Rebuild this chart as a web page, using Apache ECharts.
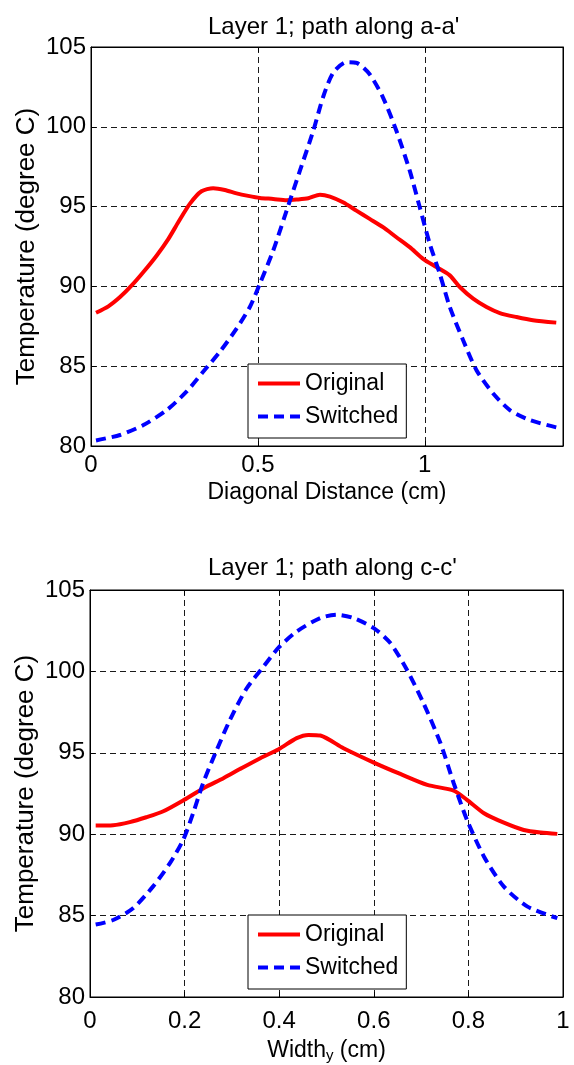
<!DOCTYPE html>
<html>
<head>
<meta charset="utf-8">
<script src="https://cdn.jsdelivr.net/npm/echarts@6/dist/echarts.min.js"></script>
<style>
  html, body { margin: 0; padding: 0; background: #fff; }
  #chart { width: 574px; height: 1065px; }
</style>
</head>
<body>
<div id="chart"></div>
<script>
// Layer 1, path along a-a' (diagonal distance, cm) — temperature, degree C
var aaOriginalX = [0.015, 0.052, 0.087, 0.122, 0.157, 0.197, 0.232, 0.261, 0.296, 0.331, 0.366, 0.401, 0.436, 0.471, 0.506, 0.546, 0.586, 0.616, 0.651, 0.686, 0.716, 0.755, 0.795, 0.835, 0.875, 0.915, 0.955, 0.995, 1.035, 1.075, 1.105, 1.145, 1.185, 1.225, 1.275, 1.324, 1.394];
var aaOriginalT = [88.35, 88.75, 89.33, 90.06, 90.9, 91.94, 92.98, 94.0, 95.17, 95.96, 96.15, 96.04, 95.83, 95.67, 95.54, 95.48, 95.4, 95.44, 95.52, 95.75, 95.63, 95.27, 94.75, 94.23, 93.71, 93.08, 92.46, 91.73, 91.21, 90.69, 89.96, 89.23, 88.71, 88.33, 88.08, 87.88, 87.73];
var aaSwitchedX = [0.015, 0.087, 0.157, 0.227, 0.286, 0.336, 0.386, 0.436, 0.476, 0.506, 0.546, 0.596, 0.626, 0.666, 0.696, 0.726, 0.766, 0.796, 0.835, 0.875, 0.915, 0.955, 0.985, 1.015, 1.045, 1.075, 1.115, 1.155, 1.205, 1.255, 1.314, 1.394];
var aaSwitchedT = [80.35, 80.69, 81.31, 82.25, 83.4, 84.65, 85.9, 87.35, 88.71, 90.17, 92.25, 95.38, 97.25, 99.75, 101.9, 103.4, 104.05, 104.0, 103.29, 101.83, 99.75, 97.25, 94.96, 92.67, 90.79, 88.71, 86.63, 84.75, 83.29, 82.25, 81.63, 81.17];

// Layer 1, path along c-c' (width y, cm)
var ccOriginalX = [0.012, 0.049, 0.084, 0.119, 0.155, 0.199, 0.24, 0.282, 0.317, 0.36, 0.399, 0.437, 0.462, 0.487, 0.536, 0.6, 0.656, 0.713, 0.769, 0.797, 0.833, 0.875, 0.917, 0.953, 0.988];
var ccOriginalT = [90.53, 90.55, 90.74, 91.04, 91.41, 92.11, 92.83, 93.44, 94.0, 94.67, 95.22, 95.9, 96.1, 96.06, 95.28, 94.4, 93.7, 93.03, 92.68, 92.11, 91.29, 90.71, 90.26, 90.1, 90.02];
var ccSwitchedX = [0.012, 0.049, 0.091, 0.133, 0.169, 0.197, 0.218, 0.239, 0.268, 0.296, 0.331, 0.367, 0.399, 0.437, 0.487, 0.522, 0.557, 0.6, 0.635, 0.67, 0.705, 0.741, 0.769, 0.797, 0.833, 0.875, 0.925, 0.988];
var ccSwitchedT = [84.45, 84.73, 85.45, 86.78, 88.22, 89.65, 91.29, 93.13, 95.18, 97.03, 98.95, 100.3, 101.47, 102.45, 103.28, 103.48, 103.28, 102.66, 101.74, 100.1, 98.05, 95.59, 93.13, 90.88, 88.62, 86.78, 85.55, 84.84];

var seriesNames = ['Original', 'Switched'];
var titles = ["Layer 1; path along a-a'", "Layer 1; path along c-c'"];
var yAxisName = 'Temperature (degree C)';
var xTicksAA = [0, 0.5, 1];
var xTicksCC = [0, 0.2, 0.4, 0.6, 0.8, 1];

function pairs(xs, ys) { return xs.map(function (x, i) { return [x, ys[i]]; }); }

var FONT = 'Liberation Sans, Arial, Helvetica, sans-serif';
var gridLine = { show: true, lineStyle: { color: '#1a1a1a', width: 1, type: [6, 4] } };
var tickIn = { show: true, inside: true, length: 5, lineStyle: { color: '#000' } };
var axisLine = { show: true, onZero: false, lineStyle: { color: '#000', width: 1 } };

function xMain(gridIndex, max, interval, ticks, name, nameGap, margin) {
  return {
    type: 'value', gridIndex: gridIndex, min: 0, max: max, interval: interval,
    axisLine: axisLine, axisTick: tickIn, splitLine: gridLine,
    axisLabel: {
      color: '#000', fontFamily: FONT, fontSize: 24, margin: margin, showMaxLabel: max === 1,
      formatter: function (v) {
        for (var i = 0; i < ticks.length; i++) if (Math.abs(ticks[i] - v) < 1e-9) return String(ticks[i]);
        return '';
      }
    },
    name: name, nameLocation: 'middle', nameGap: nameGap,
    nameTextStyle: {
      color: '#000', fontFamily: FONT, fontSize: 23,
      rich: {
        m: { fontFamily: FONT, fontSize: 23, lineHeight: 24, verticalAlign: 'top', color: '#000' },
        s: { fontFamily: FONT, fontSize: 15, lineHeight: 15, padding: [14, 0, 0, 0], verticalAlign: 'bottom', color: '#000' }
      }
    }
  };
}
function xTop(gridIndex, max, interval) {
  return {
    type: 'value', gridIndex: gridIndex, position: 'top', min: 0, max: max, interval: interval,
    axisLine: axisLine, axisTick: tickIn, axisLabel: { show: false }, splitLine: { show: false }
  };
}
function yMain(gridIndex) {
  return {
    type: 'value', gridIndex: gridIndex, min: 80, max: 105, interval: 5,
    axisLine: axisLine, axisTick: tickIn, splitLine: gridLine,
    axisLabel: { color: '#000', fontFamily: FONT, fontSize: 24, margin: 5 },
    name: yAxisName, nameLocation: 'middle', nameGap: 51, nameMoveOverlap: false,
    nameTextStyle: { color: '#000', fontFamily: FONT, fontSize: 26 }
  };
}
function yRight(gridIndex) {
  return {
    type: 'value', gridIndex: gridIndex, position: 'right', min: 80, max: 105, interval: 5,
    axisLine: axisLine, axisTick: tickIn, axisLabel: { show: false }, splitLine: { show: false }
  };
}
function lineSeries(name, xAxisIndex, yAxisIndex, data, solid) {
  return {
    type: 'line', name: name, xAxisIndex: xAxisIndex, yAxisIndex: yAxisIndex,
    data: data, symbol: 'none', showSymbol: false, smooth: 0.25,
    lineStyle: solid
      ? { color: '#ff0000', width: 4, type: 'solid' }
      : { color: '#0000ff', width: 4, type: [10, 6], cap: 'butt' },
    itemStyle: { color: solid ? '#ff0000' : '#0000ff' },
    emphasis: { disabled: true }, animation: false
  };
}
function legendAt(top) {
  return {
    data: seriesNames, orient: 'vertical', left: 248, top: top,
    backgroundColor: '#fff', borderColor: '#000', borderWidth: 1,
    padding: [8, 8, 10, 8], itemGap: 10, itemWidth: 42, itemHeight: 14,
    itemStyle: { opacity: 0 },
    lineStyle: { width: 4 },
    textStyle: { color: '#000', fontFamily: FONT, fontSize: 23 },
    selectedMode: false
  };
}

var chart = echarts.init(document.getElementById('chart'), null, { renderer: 'canvas' });
chart.setOption({
  animation: false,
  backgroundColor: '#fff',
  title: [
    { text: titles[0], left: 203, top: 10, textStyle: { color: '#000', fontFamily: FONT, fontSize: 24, fontWeight: 'normal' } },
    { text: titles[1], left: 203, top: 551, textStyle: { color: '#000', fontFamily: FONT, fontSize: 24, fontWeight: 'normal' } }
  ],
  grid: [
    { left: 91, top: 47, width: 472, height: 399, show: true, borderColor: '#000', borderWidth: 1 },
    { left: 90, top: 590, width: 473, height: 407, show: true, borderColor: '#000', borderWidth: 1 }
  ],
  xAxis: [
    xMain(0, 1.41421, 0.5, xTicksAA, 'Diagonal Distance (cm)', 35, 7),
    xMain(1, 1, 0.2, xTicksCC, '{m|Width}{s|y}{m| (cm)}', 36, 12),
    xTop(0, 1.41421, 0.5),
    xTop(1, 1, 0.2)
  ],
  yAxis: [yMain(0), yMain(1), yRight(0), yRight(1)],
  legend: [legendAt(364), legendAt(915)],
  series: [
    lineSeries(seriesNames[0], 0, 0, pairs(aaOriginalX, aaOriginalT), true),
    lineSeries(seriesNames[1], 0, 0, pairs(aaSwitchedX, aaSwitchedT), false),
    lineSeries(seriesNames[0], 1, 1, pairs(ccOriginalX, ccOriginalT), true),
    lineSeries(seriesNames[1], 1, 1, pairs(ccSwitchedX, ccSwitchedT), false)
  ]
});
</script>
</body>
</html>
